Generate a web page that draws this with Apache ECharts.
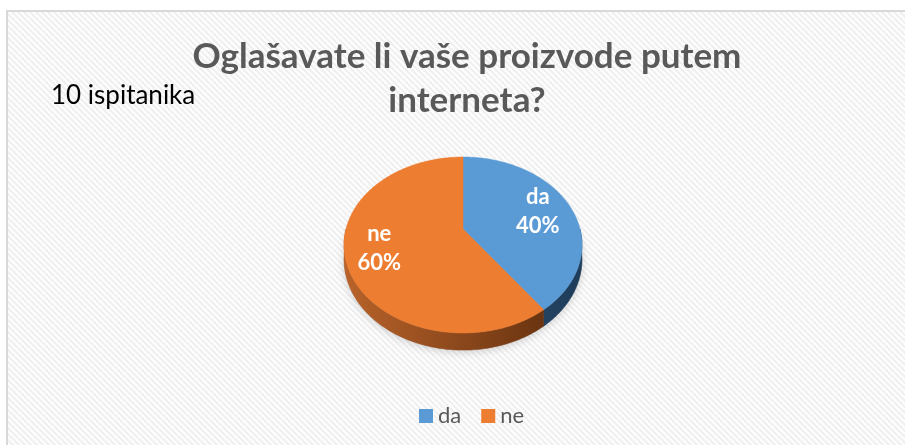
<!DOCTYPE html>
<html>
<head>
<meta charset="utf-8">
<script src="https://cdn.jsdelivr.net/npm/echarts@6/dist/echarts.min.js"></script>
<style>
  html, body { margin: 0; padding: 0; background: #ffffff; }
  #chart { width: 905px; height: 445px; }
</style>
</head>
<body>
<div id="chart"></div>
<script>
// Survey answers: "Oglašavate li vaše proizvode putem interneta?"
const categories = ['da', 'ne'];
const answers = [4, 6];
const titleLines = ['Oglašavate li vaše proizvode putem', 'interneta?'];
const respondentsLabel = 'ispitanika';

const topColors = ['#5B9BD5', '#ED7D31'];
const sideColors = [
  ['#35618a', '#1f3d5a'],
  ['#b8622a', '#5c2c0c']
];
const FONT = 'Lato, "Open Sans", sans-serif';

const total = answers.reduce((a, b) => a + b, 0);

// Tilted pie geometry (perspective view of a disc)
const CX = 463, CY = 229, R = 117, RY = 85.1, PERSP = 0.1818, DEPTH = 14;

function project(theta, drop) {
  const d = -Math.cos(theta);
  const s = 1 / (1 - PERSP * d);
  return [CX + R * Math.sin(theta) * s, CY + RY * d * s + drop * s];
}

function arc(a0, a1, drop) {
  const pts = [];
  const n = Math.max(2, Math.ceil((a1 - a0) / (Math.PI / 180)));
  for (let i = 0; i <= n; i++) pts.push(project(a0 + (a1 - a0) * i / n, drop));
  return pts;
}

function sliceAngles(idx) {
  let before = 0;
  for (let i = 0; i < idx; i++) before += answers[i];
  const a0 = before / total * Math.PI * 2;
  const a1 = (before + answers[idx]) / total * Math.PI * 2;
  return [a0, a1];
}

// hatched plot background tile
const tile = document.createElement('canvas');
tile.width = tile.height = 6;
(function () {
  const c = tile.getContext('2d');
  c.fillStyle = '#ffffff';
  c.fillRect(0, 0, 6, 6);
  c.strokeStyle = '#f0f0f0';
  c.lineWidth = 2.2;
  [[-6, 0, 6, 12], [0, 0, 6, 6], [-1, -1, 7, 7], [0, -6, 12, 6]].forEach(l => {
    c.beginPath(); c.moveTo(l[0], l[1]); c.lineTo(l[2], l[3]); c.stroke();
  });
})();

function renderSlice(params, api) {
  const idx = params.seriesIndex;
  const [a0, a1] = sliceAngles(idx);
  const children = [];

  if (idx === 0) {
    // soft shadow beneath the whole disc
    children.push({
      type: 'polygon', z2: 0,
      shape: { points: arc(0, Math.PI * 2, DEPTH) },
      style: { fill: 'rgba(120,120,120,0.5)', shadowBlur: 8, shadowColor: 'rgba(0,0,0,0.35)', shadowOffsetY: 2 }
    });
  }

  // visible rim (front half)
  const f0 = Math.max(a0, Math.PI / 2), f1 = Math.min(a1, Math.PI * 1.5);
  if (f1 > f0) {
    const topEdge = arc(f0, f1, 0);
    const botEdge = arc(f0, f1, DEPTH).reverse();
    const grad = new echarts.graphic.LinearGradient(CX - R, 0, CX + R, 0, [
      { offset: 0, color: sideColors[idx][0] },
      { offset: 1, color: sideColors[idx][1] }
    ], true);
    children.push({
      type: 'polygon', z2: 1,
      shape: { points: topEdge.concat(botEdge) },
      style: { fill: grad, stroke: grad, lineWidth: 0.5 }
    });
  }

  // top face
  children.push({
    type: 'polygon', z2: 2,
    shape: { points: [[CX, CY]].concat(arc(a0, a1, 0)) },
    style: { fill: topColors[idx], stroke: topColors[idx], lineWidth: 0.5 }
  });

  // label: category and share
  const mid = (a0 + a1) / 2;
  const d = -Math.cos(mid);
  const s = 1 / (1 - PERSP * d);
  const k = 0.71;
  const lx = CX + R * Math.sin(mid) * s * k;
  const ly = CY + RY * d * s * k;
  const pct = Math.round(answers[idx] / total * 100) + '%';
  children.push({
    type: 'text', z2: 3,
    style: {
      x: lx, y: ly,
      text: categories[idx] + '\n' + pct,
      fill: '#ffffff',
      font: 'bold 22px ' + FONT,
      lineHeight: 29,
      align: 'center',
      verticalAlign: 'middle'
    }
  });

  return { type: 'group', children };
}

const chart = echarts.init(document.getElementById('chart'), null, { renderer: 'canvas' });

chart.setOption({
  backgroundColor: '#ffffff',
  animation: false,
  color: topColors,
  title: [{
    text: titleLines.join('\n'),
    left: 462,
    top: 30,
    textAlign: 'center',
    textStyle: { fontFamily: FONT, fontWeight: 'bold', fontSize: 35, color: '#595959', lineHeight: 44 }
  }, {
    text: total + ' ' + respondentsLabel,
    left: 46,
    top: 78,
    textStyle: { fontFamily: FONT, fontWeight: 'normal', fontSize: 26, color: '#000000' }
  }],
  graphic: [{
    type: 'rect', z: -10, silent: true,
    shape: { x: 7, y: 11, width: 905, height: 445 },
    style: { fill: { image: tile, repeat: 'repeat' }, stroke: '#d9d9d9', lineWidth: 2 }
  }],
  legend: {
    data: categories,
    left: 414,
    top: 400,
    icon: 'rect',
    itemWidth: 14,
    itemHeight: 14,
    itemGap: 20,
    textStyle: { fontFamily: FONT, fontSize: 22, color: '#595959' }
  },
  series: categories.map((name, i) => ({
    type: 'custom',
    name: name,
    coordinateSystem: 'none',
    itemStyle: { color: topColors[i] },
    data: [answers[i]],
    renderItem: renderSlice
  }))
});
</script>
</body>
</html>
